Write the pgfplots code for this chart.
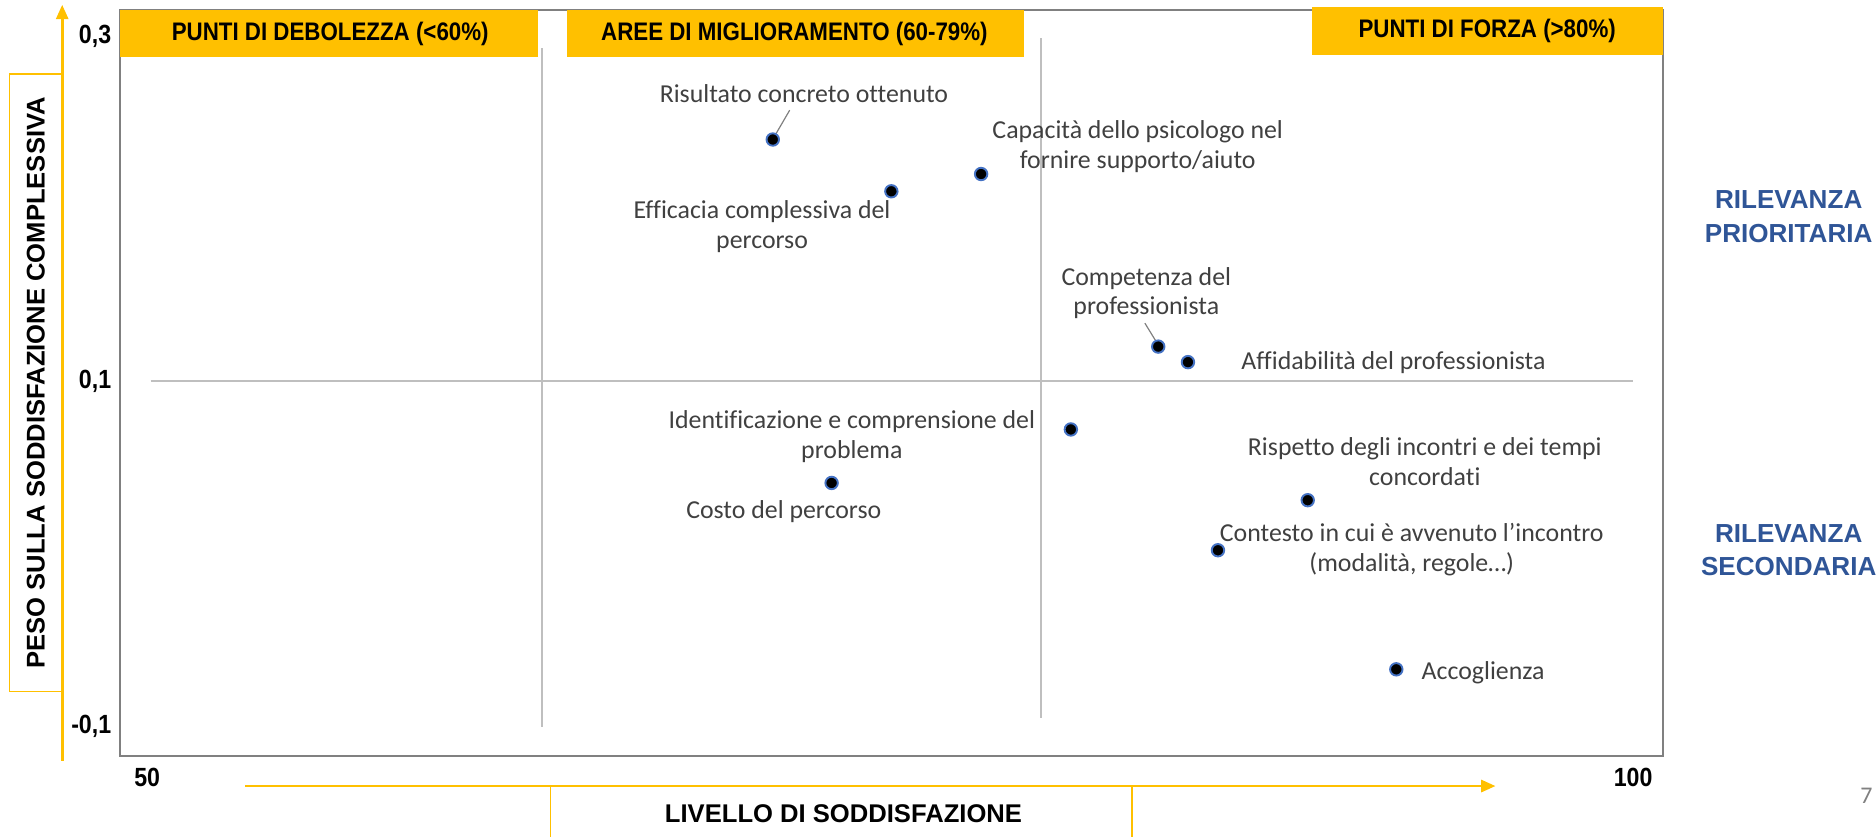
\documentclass[border=0pt]{standalone}
\usepackage{pgfplots}
\pgfplotsset{compat=1.18}
\usepackage{fontspec}
\usetikzlibrary{arrows.meta}
\setmainfont{Carlito}[Ligatures={NoCommon,NoContextual}]
\newfontfamily\lsans{Liberation Sans}
\newfontfamily\lnarrow{Liberation Sans}[FakeStretch=0.88]

\definecolor{orng}{HTML}{FFC000}
\definecolor{bluetxt}{HTML}{2F5597}
\definecolor{blueedge}{HTML}{4472C4}
\definecolor{lbltxt}{HTML}{404040}
\definecolor{gridc}{HTML}{BFBFBF}

\begin{document}
\begin{tikzpicture}[
    lbl/.style={font=\fontsize{10.8}{12.5}\selectfont, text=lbltxt, align=center, inner sep=0pt},
    ban/.style={font=\lnarrow\bfseries\fontsize{10.6}{12}\selectfont, text=black},
]
\begin{axis}[
    scale only axis,
    width=645pt, height=312pt,
    xmin=49.074, xmax=101.006,
    ymin=-0.1173, ymax=0.3153,
    xtick={50,100}, xticklabels={50,100},
    ytick={-0.1,0.1,0.3}, yticklabels={{-0,1},{0,1},{0,3}},
    major tick length=0pt,
    axis line style={gray, line width=0.8pt},
    ticklabel style={font=\lnarrow\bfseries\fontsize{11}{12}\selectfont},
    xticklabel style={yshift=-1.5pt},
    clip=false,
]
% quadrant lines
\addplot[gridc, line width=0.8pt] coordinates {(50.12,0.1) (100,0.1)};
\addplot[gridc, line width=0.8pt] coordinates {(63.3,0.293) (63.3,-0.1007)};
\addplot[gridc, line width=0.8pt] coordinates {(80.07,0.2986) (80.07,-0.0951)};

% points
\addplot[only marks, mark=*, mark size=2.6pt,
    mark options={fill=black, draw=blueedge, line width=0.8pt}] coordinates {
    (71.05,0.240)
    (75.04,0.210)
    (78.06,0.220)
    (84.02,0.120)
    (85.02,0.111)
    (81.08,0.072)
    (73.03,0.041)
    (89.05,0.031)
    (86.03,0.002)
    (92.03,-0.067)
};

% leader lines
\draw[gray, line width=0.5pt] (axis cs:71.62,0.257) -- (axis cs:71.13,0.2425);
\draw[gray, line width=0.5pt] (axis cs:83.57,0.1336) -- (axis cs:83.94,0.1232);

% labels
\node[lbl] at (axis cs:72.10,0.2667) {Risultato concreto ottenuto};
\node[lbl] at (axis cs:83.33,0.2359) {Capacità dello psicologo nel\\fornire supporto/aiuto};
\node[lbl] at (axis cs:70.69,0.1894) {Efficacia complessiva del\\percorso};
\node[lbl] at (axis cs:83.62,0.151) {Competenza del\\professionista};
\node[lbl, anchor=west] at (axis cs:86.80,0.1107) {Affidabilità del professionista};
\node[lbl] at (axis cs:73.71,0.0678) {Identificazione e comprensione del\\problema};
\node[lbl] at (axis cs:71.42,0.0241) {Costo del percorso};
\node[lbl] at (axis cs:92.99,0.0532) {Rispetto degli incontri e dei tempi\\concordati};
\node[lbl] at (axis cs:92.55,0.0023) {Contesto in cui è avvenuto l’incontro\\(modalità, regole…)};
\node[lbl, anchor=west] at (axis cs:92.87,-0.0688) {Accoglienza};
\end{axis}

% banners
\fill[orng] (0pt,292pt) rectangle (175pt,312pt);
\node[ban] at (88pt,302pt) {PUNTI DI DEBOLEZZA (<60\%)};
\fill[orng] (187pt,292pt) rectangle (378pt,312pt);
\node[ban] at (282pt,302pt) {AREE DI MIGLIORAMENTO (60-79\%)};
\fill[orng] (498.5pt,293pt) rectangle (645pt,313pt);
\node[ban] at (571.5pt,303pt) {PUNTI DI FORZA (>80\%)};

% y axis arrow and title
\draw[orng, line width=1.2pt, -{Triangle[length=6pt,width=5pt]}] (-24pt,-2pt) -- (-24pt,314pt);
\draw[orng, line width=0.6pt] (-46pt,27pt) rectangle (-24pt,285pt);
\node[rotate=90, font=\lsans\bfseries\fontsize{10.7}{12}\selectfont] at (-35pt,156pt)
    {PESO SULLA SODDISFAZIONE COMPLESSIVA};

% x axis arrow and title
\draw[orng, line width=1.2pt, -{Triangle[length=6pt,width=5pt]}] (52.5pt,-12.5pt) -- (575pt,-12.5pt);
\draw[orng, line width=0.6pt] (180pt,-40pt) -- (180pt,-12.5pt) -- (423pt,-12.5pt) -- (423pt,-40pt);
\node[font=\lsans\bfseries\fontsize{10.7}{12}\selectfont] at (302.5pt,-24pt) {LIVELLO DI SODDISFAZIONE};

% right side labels
\node[align=center, text=bluetxt, font=\lsans\bfseries\fontsize{10.9}{14}\selectfont] at (697.5pt,225.5pt)
    {RILEVANZA\\PRIORITARIA};
\node[align=center, text=bluetxt, font=\lsans\bfseries\fontsize{10.9}{14}\selectfont] at (697.5pt,86pt)
    {RILEVANZA\\SECONDARIA};

% page number
\node[text=gray, font=\fontsize{10}{12}\selectfont] at (730pt,-16.5pt) {7};

\pgfresetboundingbox
\path[use as bounding box] (-50pt,-33.5pt) rectangle (734pt,316pt);
\end{tikzpicture}
\end{document}
